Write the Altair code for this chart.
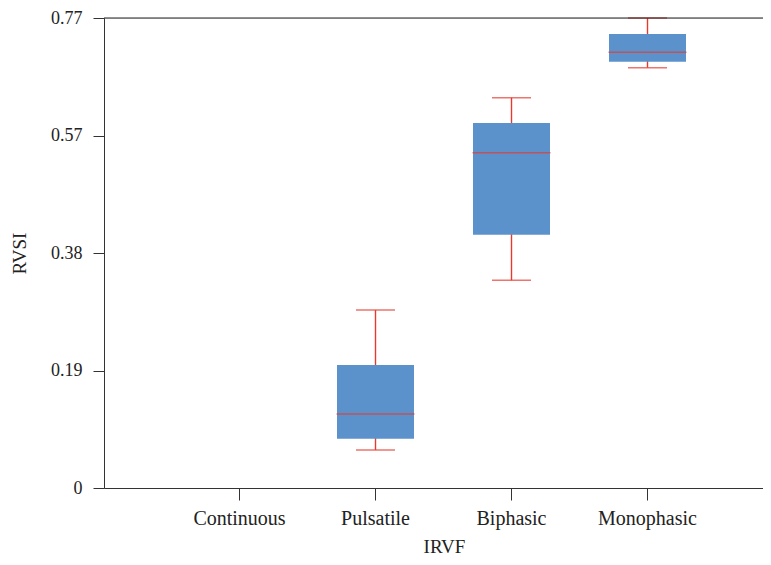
import altair as alt
import pandas as pd

categories = ["Continuous", "Pulsatile", "Biphasic", "Monophasic"]
box_cats = ["Pulsatile", "Biphasic", "Monophasic"]
whisker_low = [0.0623, 0.3403, 0.6886]
q1 = [0.0808, 0.4150, 0.6984]
median = [0.1212, 0.5493, 0.7138]
q3 = [0.2015, 0.5980, 0.7438]
whisker_high = [0.2916, 0.6394, 0.7700]

y_ticks = [0, 0.1925, 0.385, 0.5775, 0.77]
y_tick_labels = ["0", "0.19", "0.38", "0.57", "0.77"]

df = pd.DataFrame({
    "IRVF": box_cats,
    "low": whisker_low,
    "q1": q1,
    "median": median,
    "q3": q3,
    "high": whisker_high,
})

FONT = "Liberation Serif"
BLUE = "#5b92cc"
RED = "#e53b2f"
W, H = 659, 470

label_expr = "[" + ",".join(f"'{l}'" for l in y_tick_labels) + "][indexof([" + ",".join(str(v) for v in y_ticks) + "], datum.value)]"

x_enc = alt.X(
    "IRVF:N",
    scale=alt.Scale(domain=categories, paddingInner=0, paddingOuter=0.4228, align=0.587),
    axis=alt.Axis(
        title="IRVF", labelAngle=0, labelFont=FONT, labelFontSize=20, labelColor="#222",
        titleFont=FONT, titleFontSize=19, titleFontWeight="normal", titleColor="#222",
        tickSize=12, labelPadding=8, titlePadding=9, titleX=340,
        domainColor="#333", tickColor="#333", grid=False,
    ),
)
y_scale = alt.Scale(domain=[0, 0.77], nice=False, zero=True)
y_axis = alt.Axis(
    title="RVSI", values=y_ticks, labelExpr=label_expr,
    labelFont=FONT, labelFontSize=18, labelColor="#222",
    titleFont=FONT, titleFontSize=19, titleFontWeight="normal", titleColor="#222",
    tickSize=11, labelPadding=11, titleX=-75, titleY=H / 2,
    domainColor="#333", tickColor="#333", grid=False,
)

base = alt.Chart(df)

whisker = base.mark_rule(color=RED, strokeWidth=1.4).encode(
    x=x_enc,
    y=alt.Y("low:Q", scale=y_scale, axis=y_axis),
    y2="high:Q",
)
box = base.mark_bar(size=77, color=BLUE).encode(
    x="IRVF:N",
    y="q1:Q",
    y2="q3:Q",
)
med = base.mark_tick(size=78, thickness=1.5, color=RED, orient="horizontal").encode(
    x="IRVF:N", y="median:Q"
)
cap_low = base.mark_tick(size=39, thickness=1.5, color=RED, orient="horizontal").encode(
    x="IRVF:N", y="low:Q"
)
cap_high = base.mark_tick(size=39, thickness=1.5, color=RED, orient="horizontal").encode(
    x="IRVF:N", y="high:Q"
)
top_border = alt.Chart(pd.DataFrame({"a": [0]})).mark_rule(color="#222", strokeWidth=1.2).encode(
    x=alt.value(0), x2=alt.value(W), y=alt.value(0)
)

chart = alt.layer(whisker, box, med, cap_low, cap_high, top_border).properties(
    width=W, height=H,
    padding={"left": 96, "top": 10, "right": 0, "bottom": 68},
    autosize=alt.AutoSizeParams(type="none"),
).configure_view(stroke=None).configure(background="white")

chart.save("out.html", embed_options={"renderer": "svg", "actions": False})
